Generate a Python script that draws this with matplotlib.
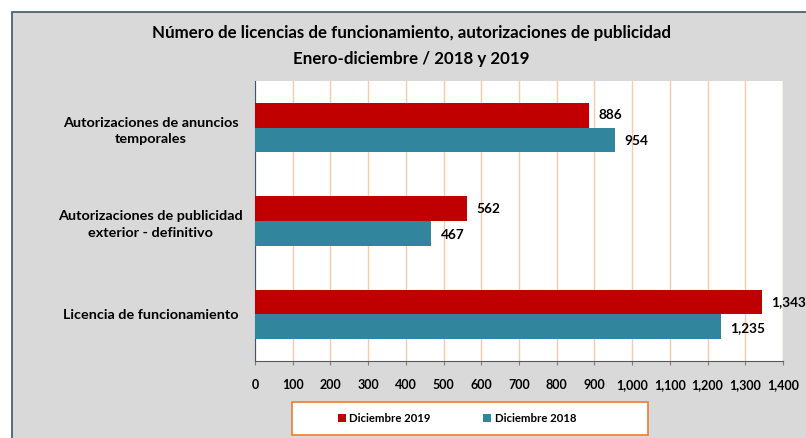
import numpy as np
import matplotlib
matplotlib.use('Agg')
from matplotlib import pyplot as plt
from matplotlib.patches import Rectangle

# data
categories = ['Autorizaciones de anuncios\ntemporales',
              'Autorizaciones de publicidad\nexterior - definitivo',
              'Licencia de funcionamiento']
dic_2019 = [886, 562, 1343]
dic_2018 = [954, 467, 1235]
series_names = ['Diciembre 2019', 'Diciembre 2018']
xticks = np.arange(0, 1401, 100)
title = 'Número de licencias de funcionamiento, autorizaciones de publicidad\nEnero-diciembre / 2018 y 2019'

red = '#c00000'
teal = '#31859c'
grid_col = '#f8cbad'
W, H = 806, 438

plt.rcParams['font.family'] = ['Lato', 'DejaVu Sans']
plt.rcParams['font.weight'] = 'bold'

fig = plt.figure(figsize=(W / 100, H / 100), dpi=100)
fig.patch.set_facecolor('white')

# outer chart area
fig.patches.append(Rectangle((12 / W, -0.1), 1.2, 1 - 12 / H + 0.1, transform=fig.transFigure,
                             facecolor='#d9d9d9', edgecolor='#44546a', linewidth=1.2, zorder=-10))

ax = fig.add_axes([255 / W, 1 - 361 / H, (783 - 255) / W, (361 - 81) / H])
ax.set_facecolor('white')

y = np.arange(len(categories))
h = 0.265
ax.barh(y - h / 2, dic_2019, height=h, color=red, label=series_names[0], zorder=3)
ax.barh(y + h / 2, dic_2018, height=h, color=teal, label=series_names[1], zorder=3)

for i in range(len(categories)):
    ax.annotate(f'{dic_2019[i]:,}', (dic_2019[i], y[i] - h / 2), xytext=(7, 0),
                textcoords='offset points', va='center', ha='left', fontsize=9.8,
                fontweight='bold', annotation_clip=False)
    ax.annotate(f'{dic_2018[i]:,}', (dic_2018[i], y[i] + h / 2), xytext=(7, -1),
                textcoords='offset points', va='center', ha='left', fontsize=9.8,
                fontweight='bold', annotation_clip=False)

ax.set_xlim(0, 1400)
ax.set_ylim(len(categories) - 0.5, -0.5)
ax.set_xticks(xticks)
ax.set_xticklabels([f'{v:,}' for v in xticks], fontsize=9, fontweight='bold')
ax.set_yticks(y)
ax.set_yticklabels(categories, fontsize=10.4, fontweight='bold', ha='center',
                   multialignment='center', linespacing=1.45)
ax.tick_params(axis='y', length=0, pad=75)
ax.tick_params(axis='x', length=3, color='#7f7f7f', pad=10)
ax.xaxis.grid(True, color=grid_col, linewidth=1, zorder=0)
ax.set_axisbelow(True)
for s in ['top', 'right']:
    ax.spines[s].set_visible(False)
ax.spines['left'].set_color('#44546a')
ax.spines['bottom'].set_color('#595959')
ax.axvline(1400, color=grid_col, linewidth=1, zorder=1)

fig.text(411 / W, 1 - 46 / H, title, ha='center', va='center', fontsize=12.2,
         fontweight='bold', linespacing=1.7)

# legend
fig.patches.append(Rectangle((292 / W, 1 - 435 / H), (648 - 292) / W, (435 - 402) / H,
                             transform=fig.transFigure, facecolor='white',
                             edgecolor='#ed7d31', linewidth=1.2, zorder=1))
leg = fig.legend(loc='center', bbox_to_anchor=(457 / W, 1 - 418 / H), ncol=2, frameon=False,
                 handlelength=0.7, handleheight=0.7, handletextpad=0.3,
                 columnspacing=4.6, prop={'weight': 'bold', 'size': 8.2})

fig.savefig('out.png', dpi=100)
